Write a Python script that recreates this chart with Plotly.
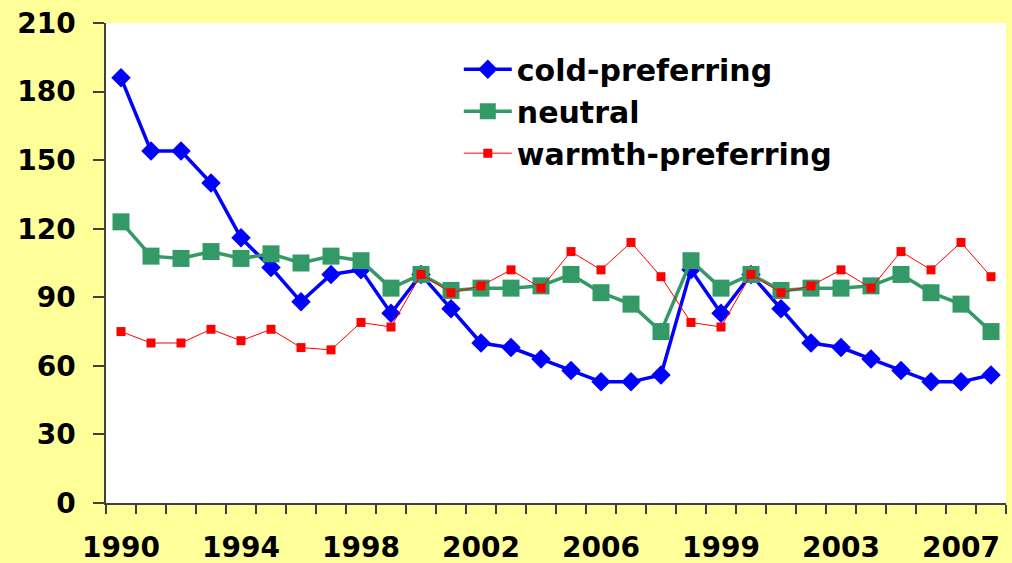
import plotly.graph_objects as go

# Year labels for each point (1990-2008, then 1998-2008 repeated)
years = [1990, 1991, 1992, 1993, 1994, 1995, 1996, 1997, 1998, 1999,
         2000, 2001, 2002, 2003, 2004, 2005, 2006, 2007, 2008,
         1998, 1999, 2000, 2001, 2002, 2003, 2004, 2005, 2006, 2007, 2008]

cold_preferring = [186, 154, 154, 140, 116, 103, 88, 100, 102, 83,
                   100, 85, 70, 68, 63, 58, 53, 53, 56,
                   102, 83, 100, 85, 70, 68, 63, 58, 53, 53, 56]
neutral = [123, 108, 107, 110, 107, 109, 105, 108, 106, 94,
           100, 93, 94, 94, 95, 100, 92, 87, 75,
           106, 94, 100, 93, 94, 94, 95, 100, 92, 87, 75]
warmth_preferring = [75, 70, 70, 76, 71, 76, 68, 67, 79, 77,
                     100, 92, 95, 102, 94, 110, 102, 114, 99,
                     79, 77, 100, 92, 95, 102, 94, 110, 102, 114, 99]

label_step = 4
y_ticks = [0, 30, 60, 90, 120, 150, 180, 210]

x = list(range(len(years)))
font_family = "DejaVu Sans"

fig = go.Figure()
fig.add_trace(go.Scatter(
    x=x, y=cold_preferring, name="cold-preferring", mode="lines+markers",
    line=dict(color="#0000FF", width=3.5),
    marker=dict(symbol="diamond", size=15, color="#0000FF"),
))
fig.add_trace(go.Scatter(
    x=x, y=neutral, name="neutral", mode="lines+markers",
    line=dict(color="#339966", width=3.5),
    marker=dict(symbol="square", size=17, color="#339966"),
))
fig.add_trace(go.Scatter(
    x=x, y=warmth_preferring, name="warmth-preferring", mode="lines+markers",
    line=dict(color="#FF0000", width=1),
    marker=dict(symbol="square", size=9, color="#FF0000"),
))

tick_idx = x[::label_step]
fig.update_layout(
    width=1012, height=563,
    margin=dict(l=106, r=6, t=23, b=60),
    paper_bgcolor="#FFFF99",
    plot_bgcolor="#FFFFFF",
    font=dict(family=font_family, size=28, color="#000000", weight="bold"),
    showlegend=True,
    legend=dict(
        x=0.392, y=0.958, xanchor="left", yanchor="top",
        bgcolor="rgba(0,0,0,0)", itemwidth=48,
        font=dict(family=font_family, size=30, color="#000000", weight="bold"),
    ),
    xaxis=dict(
        range=[-0.5, len(years) - 0.5],
        tickmode="array", tickvals=tick_idx,
        ticktext=[str(years[i]) for i in tick_idx],
        ticks="", ticklabelstandoff=19, automargin=False,
        showgrid=False, zeroline=False,
        showline=True, linecolor="#404040", linewidth=1.5,
        minor=dict(ticks="outside", tick0=-0.5, dtick=1, ticklen=9,
                   tickcolor="#404040", tickwidth=1.5, showgrid=False),
        tickfont=dict(family=font_family, size=28, weight="bold"),
    ),
    yaxis=dict(
        range=[0, 210], tickmode="array", tickvals=y_ticks,
        ticks="outside", ticklen=11, tickcolor="#404040", tickwidth=1.5,
        ticklabelstandoff=12, automargin=False,
        showgrid=False, zeroline=False,
        showline=True, linecolor="#404040", linewidth=1.5,
        tickfont=dict(family=font_family, size=28, weight="bold"),
    ),
)

fig.write_html("out.html")
